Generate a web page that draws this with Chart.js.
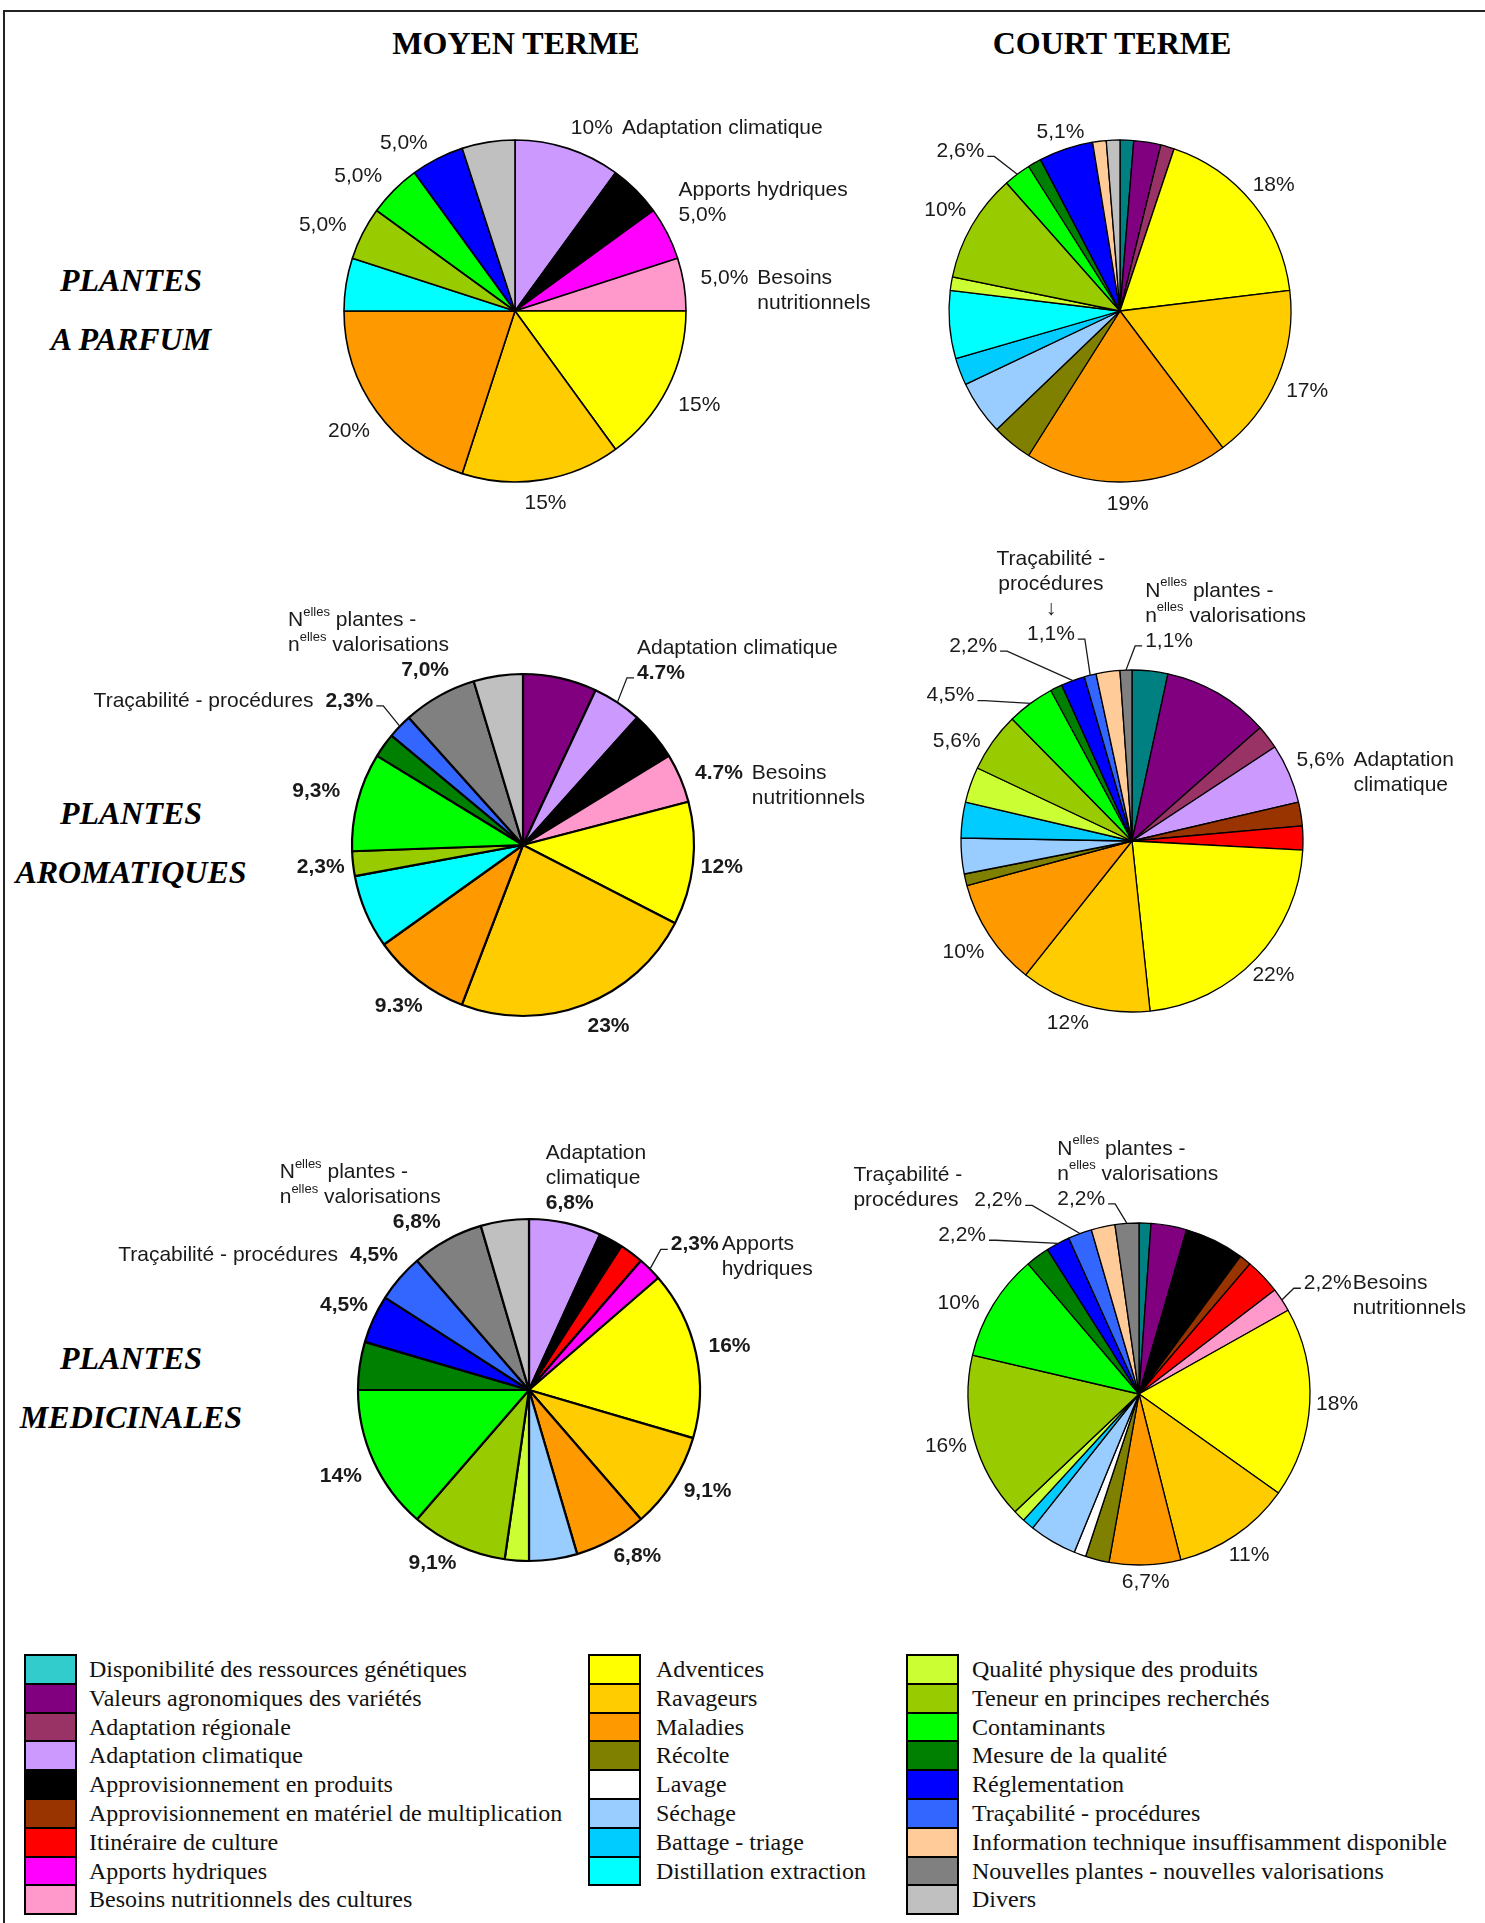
<!DOCTYPE html>
<html lang="fr">
<head>
<meta charset="utf-8">
<title>Priorités de recherche - plantes à parfum, aromatiques et médicinales</title>
<script src="https://cdn.jsdelivr.net/npm/chart.js@4.4.1/dist/chart.umd.min.js"></script>
<style>
  html, body { margin: 0; padding: 0; background: #fff; }
  #page { position: relative; width: 1485px; height: 1923px; overflow: hidden; }
  #frame { position: absolute; left: 3px; top: 10px; right: -20px; bottom: -20px;
           border-top: 2px solid #222; border-left: 2px solid #222; }
  .colTitle { position: absolute; top: 23px; width: 400px; margin-left: -200px; text-align: center;
              font: bold 32px "Liberation Serif", "Times New Roman", serif; line-height: 40px; color: #000; }
  .rowTitle { position: absolute; left: 0; width: 262px; text-align: center;
              font: bold italic 32px "Liberation Serif", "Times New Roman", serif; line-height: 58.5px; color: #000; }
  canvas.pie { position: absolute; }
  .sw { position: absolute; box-sizing: border-box; border: 2px solid #000; }
  .legText { position: absolute; font: 24px "Liberation Serif", "Times New Roman", serif; line-height: 29px;
             color: #111; white-space: nowrap; }
</style>
</head>
<body>
<div id="page">
  <div id="frame"></div>
  <div class="colTitle" style="left:516px">MOYEN TERME</div>
  <div class="colTitle" style="left:1112px">COURT TERME</div>
  <div class="rowTitle" style="top:251px">PLANTES<br>A PARFUM</div>
  <div class="rowTitle" style="top:784px">PLANTES<br>AROMATIQUES</div>
  <div class="rowTitle" style="top:1329px">PLANTES<br>MEDICINALES</div>
  <div id="legend"></div>
</div>

<script>
// categories, in the order the slices run (clockwise from 12 o'clock)
const categories = [
    'Disponibilité des ressources génétiques',
    'Valeurs agronomiques des variétés',
    'Adaptation régionale',
    'Adaptation climatique',
    'Approvisionnement en produits',
    'Approvisionnement en matériel de multiplication',
    'Itinéraire de culture',
    'Apports hydriques',
    'Besoins nutritionnels des cultures',
    'Adventices',
    'Ravageurs',
    'Maladies',
    'Récolte',
    'Lavage',
    'Séchage',
    'Battage - triage',
    'Distillation extraction',
    'Qualité physique des produits',
    'Teneur en principes recherchés',
    'Contaminants',
    'Mesure de la qualité',
    'Réglementation',
    'Traçabilité - procédures',
    'Information technique insuffisamment disponible',
    'Nouvelles plantes - nouvelles valorisations',
    'Divers'
]

const sliceColors = [
    '#008080', '#800080', '#993366', '#CC99FF', '#000000', '#993300', '#FF0000', '#FF00FF', '#FF99CC',
    '#FFFF00', '#FFCC00', '#FF9900', '#808000', '#FFFFFF', '#99CCFF', '#00CCFF', '#00FFFF',
    '#CCFF33', '#99CC00', '#00FF00', '#008000', '#0000FF', '#3366FF', '#FFCC99', '#808080', '#C0C0C0'
]
const legendColors = ['#33CCCC'].concat(sliceColors.slice(1))

// number of answers per category (same order as categories)
const parfumMoyen = [0, 0, 0, 2, 1, 0, 0, 1, 1, 3, 3, 4, 0, 0, 0, 0, 1, 0, 1, 1, 0, 1, 0, 0, 0, 1]
const parfumCourt = [1, 2, 1, 0, 0, 0, 0, 0, 0, 14, 13, 15, 3, 0, 4, 2, 5, 1, 8, 2, 1, 4, 0, 1, 0, 1]
const aromMoyen   = [0, 3, 0, 2, 2, 0, 0, 0, 2, 5, 10, 4, 0, 0, 0, 0, 3, 0, 1, 4, 1, 0, 1, 0, 3, 2]
const aromCourt   = [3, 9, 2, 5, 0, 2, 2, 0, 0, 20, 11, 9, 1, 0, 3, 3, 0, 3, 5, 4, 1, 2, 1, 2, 1, 0]
const medMoyen    = [0, 0, 0, 3, 1, 0, 1, 1, 0, 7, 4, 3, 0, 0, 2, 0, 0, 1, 4, 6, 2, 2, 2, 0, 3, 2]
const medCourt    = [1, 3, 0, 0, 5, 1, 3, 0, 2, 16, 10, 6, 2, 1, 4, 1, 0, 1, 14, 9, 2, 2, 2, 2, 2, 0]

// which slices get a label, and how it sits (ang = degrees from 12 o'clock, dist = x radius)
const NELLES = ['N{elles} plantes -', 'n{elles} valorisations']
const labelsParfumMoyen = [
    {i: 3, ang: 22.8, dist: 1.16, name: ['Adaptation climatique'], at: 'right'},
    {i: 7, dist: 1.23, name: ['Apports hydriques'], at: 'above', align: 'left'},
    {i: 8, dist: 1.24, name: ['Besoins', 'nutritionnels'], at: 'right'},
    {i: 9, dist: 1.21}, {i: 10, dist: 1.14}, {i: 11, dist: 1.2},
    {i: 18, ang: 294, dist: 1.23}, {i: 19, ang: 310.7, dist: 1.21}, {i: 21, ang: 326.4, dist: 1.175}
]
const labelsParfumCourt = [
    {i: 9, dist: 1.16}, {i: 10, dist: 1.19}, {i: 11, dist: 1.13}, {i: 18, dist: 1.18},
    {i: 19, ang: 315, dist: 1.32, leader: true}, {i: 21, dist: 1.1}
]
const labelsAromMoyen = [
    {i: 3, ang: 38.7, dist: 1.29, dot: true, leader: true, name: ['Adaptation climatique'], at: 'above', align: 'left'},
    {i: 8, ang: 69.9, dist: 1.22, dot: true, name: ['Besoins', 'nutritionnels'], at: 'right'},
    {i: 9, dist: 1.17}, {i: 10, ang: 154.7, dist: 1.17}, {i: 11, dist: 1.19, dot: true},
    {i: 18, dist: 1.19}, {i: 19, dist: 1.25},
    {i: 22, ang: 309.7, dist: 1.32, leader: true, name: ['Traçabilité - procédures'], at: 'left'},
    {i: 24, dist: 1.17, name: NELLES, at: 'above', align: 'right'}
]
const labelsAromCourt = [
    {i: 3, dist: 1.2, name: ['Adaptation', 'climatique'], at: 'right'},
    {i: 9, dist: 1.14}, {i: 10, ang: 199.4, dist: 1.13}, {i: 11, dist: 1.18}, {i: 18, ang: 299.7, dist: 1.18},
    {i: 19, ang: 308.7, dist: 1.36, leader: true},
    {i: 21, ang: 320.8, dist: 1.47, leader: true},
    {i: 22, ang: 338.6, dist: 1.3, leader: true, name: ['Traçabilité -', 'procédures', '↓'], at: 'above', align: 'center'},
    {i: 24, ang: 10.5, dist: 1.19, leader: true, name: NELLES, at: 'above', align: 'left'}
]
const labelsMedMoyen = [
    {i: 3, dist: 1.12, name: ['Adaptation', 'climatique'], at: 'above', align: 'left'},
    {i: 7, ang: 48.7, dist: 1.29, leader: true, name: ['Apports', 'hydriques'], at: 'right', gap: 3},
    {i: 9, dist: 1.2}, {i: 10, ang: 119.5, dist: 1.2}, {i: 11, ang: 146.9, dist: 1.16},
    {i: 18, ang: 209.1, dist: 1.16}, {i: 19, dist: 1.21}, {i: 21, dist: 1.19},
    {i: 22, dist: 1.2, name: ['Traçabilité - procédures'], at: 'left'},
    {i: 24, ang: 326.2, dist: 1.18, name: NELLES, at: 'above', align: 'right'}
]
const labelsMedCourt = [
    {i: 8, ang: 59.6, dist: 1.28, leader: true, name: ['Besoins', 'nutritionnels'], at: 'right', gap: 1},
    {i: 9, dist: 1.16}, {i: 10, dist: 1.14}, {i: 11, dist: 1.1}, {i: 18, dist: 1.17},
    {i: 19, ang: 296.6, dist: 1.18},
    {i: 21, ang: 311.9, dist: 1.39, leader: true},
    {i: 22, ang: 324, dist: 1.4, leader: true, name: ['Traçabilité -', 'procédures'], at: 'left'},
    {i: 24, ang: 343.5, dist: 1.19, leader: true, name: NELLES, at: 'above', align: 'left'}
]


function formatPct(v, total, dot) {
    const p = v / total * 100
    const s = p >= 9.95 ? String(Math.round(p)) : p.toFixed(1)
    return (dot ? s : s.replace('.', ',')) + '%'
}

// split "N{elles} plantes" into normal / superscript parts
function richParts(line) {
    const out = []
    line.split(/(\{[^}]*\})/).forEach(p => {
        if (!p) return
        if (p[0] == '{') out.push([p.slice(1, -1), true])
        else out.push([p, false])
    })
    return out
}

function richWidth(ctx, line, font, supFont) {
    let w = 0
    for (const [t, sup] of richParts(line)) {
        ctx.font = sup ? supFont : font
        w += ctx.measureText(t).width
    }
    return w
}

function drawRich(ctx, line, x, y, font, supFont) {
    ctx.textAlign = 'left'
    for (const [t, sup] of richParts(line)) {
        ctx.font = sup ? supFont : font
        ctx.fillText(t, x, sup ? y - 8 : y)
        x += ctx.measureText(t).width
    }
}

// percentage labels + category names around the pie
const sliceLabels = {
    id: 'sliceLabels',
    afterDatasetsDraw(chart, args, opts) {
        const ctx = chart.ctx
        const meta = chart.getDatasetMeta(0)
        const values = chart.data.datasets[0].data
        const total = values.reduce((a, b) => a + b, 0)
        const nameFont = '21px "Liberation Sans", Arial, sans-serif'
        const supFont = '13px "Liberation Sans", Arial, sans-serif'
        const lh = 25

        ctx.save()
        ctx.fillStyle = '#1a1a1a'
        ctx.strokeStyle = '#1a1a1a'
        ctx.lineWidth = 1.3
        ctx.textBaseline = 'middle'

        for (const s of opts.items) {
            const arc = meta.data[s.i]
            const {x: cx, y: cy, startAngle, endAngle, outerRadius} =
                arc.getProps(['x', 'y', 'startAngle', 'endAngle', 'outerRadius'], true)
            const mid = (startAngle + endAngle) / 2
            const a = s.ang !== undefined ? s.ang * Math.PI / 180 - Math.PI / 2 : mid
            const d = outerRadius * (s.dist || 1.18)
            const x = cx + Math.cos(a) * d
            const y = cy + Math.sin(a) * d

            const txt = formatPct(values[s.i], total, s.dot)
            ctx.font = opts.pctFont
            const w = ctx.measureText(txt).width
            ctx.textAlign = 'center'
            ctx.fillText(txt, x, y)

            if (s.leader) {
                const ex = cx + Math.cos(mid) * outerRadius
                const ey = cy + Math.sin(mid) * outerRadius
                const side = ex > x ? 1 : -1
                const sx = x + side * (w / 2 + 3)
                const sy = y + 5
                ctx.beginPath()
                ctx.moveTo(sx, sy)
                ctx.lineTo(sx + side * 7, sy)
                ctx.lineTo(ex, ey)
                ctx.stroke()
            }

            if (s.name) {
                const widths = s.name.map(l => richWidth(ctx, l, nameFont, supFont))
                const bw = Math.max(...widths)
                const n = s.name.length
                const gap = s.gap !== undefined ? s.gap : 9
                s.name.forEach((line, k) => {
                    let lx, ly
                    if (s.at == 'right') {
                        lx = x + w / 2 + gap
                        ly = y + k * lh
                    } else if (s.at == 'left') {
                        lx = x - w / 2 - 12 - bw
                        ly = y - (n - 1 - k) * lh
                    } else {
                        ly = y - (n - k) * lh
                        if (s.align == 'right') lx = x + w / 2 - bw
                        else if (s.align == 'center') lx = x - widths[k] / 2
                        else lx = x - w / 2
                    }
                    drawRich(ctx, line, lx, ly, nameFont, supFont)
                })
            }
        }
        ctx.restore()
    }
}


const pies = [
    {values: parfumMoyen, labels: labelsParfumMoyen, cx: 515, cy: 311, border: 1.6, bold: false},
    {values: parfumCourt, labels: labelsParfumCourt, cx: 1120, cy: 311, border: 1.3, bold: false},
    {values: aromMoyen, labels: labelsAromMoyen, cx: 523, cy: 845, border: 2.2, bold: true},
    {values: aromCourt, labels: labelsAromCourt, cx: 1132, cy: 841, border: 1.3, bold: false},
    {values: medMoyen, labels: labelsMedMoyen, cx: 529, cy: 1390, border: 2.2, bold: true},
    {values: medCourt, labels: labelsMedCourt, cx: 1139, cy: 1394, border: 1.3, bold: false}
]

const page = document.getElementById('page')
const W = 960, H = 680

for (const p of pies) {
    const frame = document.createElement('canvas')
    frame.className = 'pie'
    frame.width = W
    frame.height = H
    frame.style.left = (p.cx - W / 2) + 'px'
    frame.style.top = (p.cy - H / 2) + 'px'
    frame.style.width = W + 'px'
    frame.style.height = H + 'px'
    page.appendChild(frame)

    new Chart(frame, {
        type: 'pie',
        data: {
            labels: categories,
            datasets: [{
                data: p.values,
                backgroundColor: sliceColors,
                borderColor: '#000000',
                borderWidth: p.border,
                radius: 171
            }]
        },
        options: {
            responsive: false,
            animation: false,
            events: [],
            layout: {padding: 0},
            plugins: {
                legend: {display: false},
                tooltip: {enabled: false},
                sliceLabels: {
                    items: p.labels,
                    pctFont: (p.bold ? 'bold ' : '') + '21px "Liberation Sans", Arial, sans-serif'
                }
            }
        },
        plugins: [sliceLabels]
    })
}


// legend: three columns of colour boxes
const legendCols = [
    {from: 0, to: 9, x: 24, tx: 89},
    {from: 9, to: 17, x: 588, tx: 656},
    {from: 17, to: 26, x: 906, tx: 972}
]
const legend = document.getElementById('legend')
const rowTop = 1654, rowStep = 28.8

for (const col of legendCols) {
    for (let k = col.from; k < col.to; k++) {
        const top = rowTop + (k - col.from) * rowStep
        const sw = document.createElement('div')
        sw.className = 'sw'
        sw.style.left = col.x + 'px'
        sw.style.top = top + 'px'
        sw.style.width = '53px'
        sw.style.height = (rowStep + 2) + 'px'
        sw.style.background = legendColors[k]
        legend.appendChild(sw)

        const t = document.createElement('div')
        t.className = 'legText'
        t.style.left = col.tx + 'px'
        t.style.top = (top + 1) + 'px'
        t.textContent = categories[k]
        legend.appendChild(t)
    }
}
</script>
</body>
</html>
